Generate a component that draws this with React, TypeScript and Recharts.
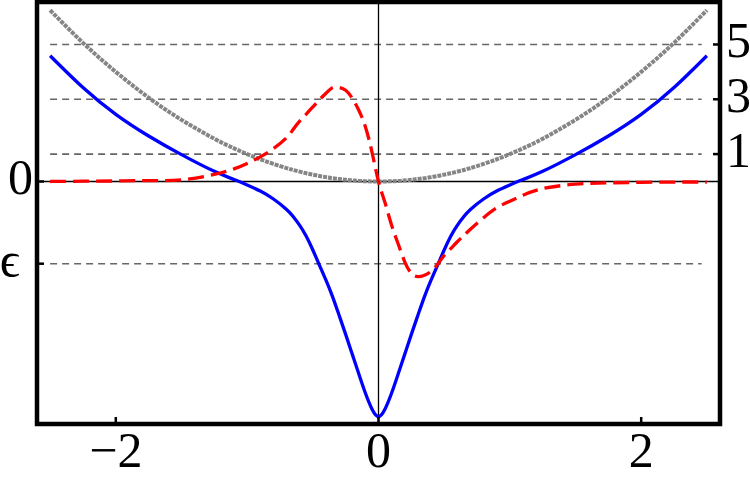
import React from 'react';
import { LineChart, Line, XAxis, YAxis, ReferenceLine, ReferenceArea } from 'recharts';

const xs = [-2.5, -2.25, -2, -1.75, -1.5, -1.25, -1.1, -1, -0.9, -0.8, -0.7, -0.65, -0.6, -0.55, -0.5, -0.45, -0.4, -0.35, -0.3, -0.25, -0.2, -0.15, -0.1, -0.05, 0, 0.05, 0.1, 0.15, 0.2, 0.25, 0.3, 0.35, 0.4, 0.45, 0.5, 0.55, 0.6, 0.65, 0.7, 0.8, 0.9, 1, 1.1, 1.25, 1.5, 1.75, 2, 2.25, 2.5];

const blueValues = [4.59, 3.43, 2.45, 1.66, 0.98, 0.37, 0.07, -0.13, -0.35, -0.64, -1.02, -1.28, -1.6, -2.0, -2.5, -3.05, -3.6, -4.2, -4.88, -5.58, -6.3, -7.02, -7.72, -8.3, -8.58, -8.3, -7.72, -7.02, -6.3, -5.58, -4.88, -4.2, -3.6, -3.05, -2.5, -2.0, -1.6, -1.28, -1.02, -0.64, -0.35, -0.13, 0.07, 0.37, 0.98, 1.66, 2.45, 3.43, 4.59];

const redValues = [0.0, 0.01, 0.02, 0.03, 0.06, 0.26, 0.46, 0.66, 0.9, 1.2, 1.6, 1.9, 2.2, 2.46, 2.72, 2.98, 3.22, 3.42, 3.43, 3.33, 3.04, 2.6, 2.0, 1.08, 0, -0.78, -1.6, -2.28, -2.93, -3.35, -3.47, -3.42, -3.28, -3.02, -2.7, -2.45, -2.2, -1.97, -1.74, -1.32, -0.96, -0.72, -0.5, -0.26, -0.1, -0.05, -0.03, -0.02, -0.02];

const grayValues = [6.25, 5.06, 4.0, 3.06, 2.25, 1.56, 1.21, 1.0, 0.81, 0.64, 0.49, 0.42, 0.36, 0.3, 0.25, 0.2, 0.16, 0.12, 0.09, 0.06, 0.04, 0.02, 0.01, 0.0, 0.0, 0.0, 0.01, 0.02, 0.04, 0.06, 0.09, 0.12, 0.16, 0.2, 0.25, 0.3, 0.36, 0.42, 0.49, 0.64, 0.81, 1.0, 1.21, 1.56, 2.25, 3.06, 4.0, 5.06, 6.25];

const levelLines = [5, 3, 1, -3];
const xTicks = [-2, 0, 2];
const leftTicks = [0, -3];
const rightTicks = [1, 3, 5];
const leftLabels: Record<string, string> = { '0': '0', '-3': '\u03F5' };

const data = xs.map((x, i) => ({ x, blue: blueValues[i], red: redValues[i], gray: grayValues[i] }));

const FONT = '"Liberation Serif", "Times New Roman", serif';

const fmt = (v: number) => (v < 0 ? '\u2212' + Math.abs(v) : String(v));

const BottomTick = (props: any) => {
  const { x, y, payload } = props;
  return (
    <g>
      <line x1={x} x2={x} y1={y} y2={y - 7} stroke="#000" strokeWidth={2.5} />
      <text x={x} y={y + 43} textAnchor="middle" fontFamily={FONT} fontSize={50} fill="#000">
        {fmt(payload.value)}
      </text>
    </g>
  );
};

const LeftTick = (props: any) => {
  const { x, y, payload } = props;
  const label = leftLabels[String(payload.value)];
  const isEps = payload.value !== 0;
  return (
    <g>
      <line x1={x} x2={x + 7} y1={y} y2={y} stroke="#000" strokeWidth={2.5} />
      <text x={isEps ? x - 17 : x - 4} y={y + 13} textAnchor="end" fontFamily={FONT} fontSize={50} fill="#000">
        {label}
      </text>
    </g>
  );
};

const RightTick = (props: any) => {
  const { x, y, payload } = props;
  return (
    <g>
      <line x1={x} x2={x - 7} y1={y} y2={y} stroke="#000" strokeWidth={2.5} />
      <text x={x + 6} y={y + 13} textAnchor="start" fontFamily={FONT} fontSize={50} fill="#000">
        {String(payload.value)}
      </text>
    </g>
  );
};

export default function App() {
  return (
    <div style={{ position: 'absolute', left: 0, top: 0, width: 750, height: 479, background: '#fff' }}>
      <LineChart width={750} height={479} data={data} margin={{ top: 2, right: 0, bottom: 0, left: 0 }}>
        <XAxis
          dataKey="x"
          type="number"
          domain={[-2.6, 2.6]}
          ticks={xTicks}
          allowDataOverflow
          height={55}
          axisLine={false}
          tickLine={false}
          tickSize={0}
          tickMargin={0}
          tick={<BottomTick />}
        />
        <YAxis
          yAxisId="left"
          type="number"
          domain={[-8.85, 6.55]}
          ticks={leftTicks}
          allowDataOverflow
          width={37}
          axisLine={false}
          tickLine={false}
          tickSize={0}
          tickMargin={0}
          tick={<LeftTick />}
        />
        <YAxis
          yAxisId="right"
          orientation="right"
          type="number"
          domain={[-8.85, 6.55]}
          ticks={rightTicks}
          allowDataOverflow
          width={30}
          axisLine={false}
          tickLine={false}
          tickSize={0}
          tickMargin={0}
          tick={<RightTick />}
        />
        {levelLines.map((v) => (
          <ReferenceLine
            key={v}
            yAxisId="left"
            segment={[{ x: -2.5, y: v }, { x: 2.46, y: v }]}
            stroke="#666"
            strokeWidth={1.6}
            strokeDasharray="7 5"
          />
        ))}
        <ReferenceLine yAxisId="left" y={0} stroke="#000" strokeWidth={1.3} />
        <ReferenceLine yAxisId="left" x={0} stroke="#000" strokeWidth={1.3} />
        <Line
          yAxisId="left"
          dataKey="gray"
          type="natural"
          stroke="#858585"
          strokeWidth={4}
          strokeDasharray="4 1"
          dot={false}
          isAnimationActive={false}
        />
        <Line
          yAxisId="left"
          dataKey="blue"
          type="natural"
          stroke="#0000ff"
          strokeWidth={3.3}
          dot={false}
          isAnimationActive={false}
        />
        <Line
          yAxisId="left"
          dataKey="red"
          type="natural"
          stroke="#ff0000"
          strokeWidth={3.3}
          strokeDasharray="16 7"
          dot={false}
          isAnimationActive={false}
        />
        <ReferenceArea
          yAxisId="left"
          x1={-2.6}
          x2={2.6}
          y1={-8.85}
          y2={6.55}
          fill="none"
          fillOpacity={0}
          stroke="#000"
          strokeWidth={4.5}
        />
      </LineChart>
    </div>
  );
}
